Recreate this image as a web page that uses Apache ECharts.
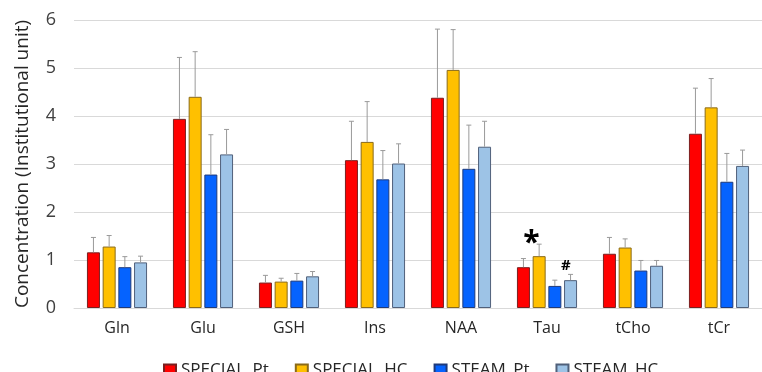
<!DOCTYPE html>
<html>
<head>
<meta charset="utf-8">
<script src="https://cdn.jsdelivr.net/npm/echarts@6/dist/echarts.min.js"></script>
<style>
  html, body { margin: 0; padding: 0; background: #fff; }
  #chart { width: 762px; height: 372px; }
</style>
</head>
<body>
<div id="chart"></div>
<script>
// Metabolite concentrations (mean and mean + SD) per sequence and group
const metabolites = ['Gln', 'Glu', 'GSH', 'Ins', 'NAA', 'Tau', 'tCho', 'tCr'];
const seriesNames = ['SPECIAL_Pt', 'SPECIAL_HC', 'STEAM_Pt', 'STEAM_HC'];

const specialPtMean = [1.16, 3.94, 0.53, 3.08, 4.38, 0.85, 1.13, 3.63];
const specialHcMean = [1.28, 4.40, 0.55, 3.46, 4.96, 1.08, 1.26, 4.18];
const steamPtMean   = [0.85, 2.78, 0.57, 2.68, 2.90, 0.46, 0.78, 2.63];
const steamHcMean   = [0.95, 3.20, 0.66, 3.01, 3.36, 0.58, 0.88, 2.96];

const specialPtUpper = [1.47, 5.22, 0.68, 3.89, 5.81, 1.03, 1.47, 4.58];
const specialHcUpper = [1.51, 5.34, 0.62, 4.30, 5.80, 1.33, 1.44, 4.78];
const steamPtUpper   = [1.07, 3.61, 0.72, 3.28, 3.81, 0.58, 0.99, 3.22];
const steamHcUpper   = [1.08, 3.72, 0.76, 3.42, 3.89, 0.70, 0.99, 3.29];

const yTicks = [0, 1, 2, 3, 4, 5, 6];

const colors = ['#ff0000', '#ffc000', '#0563ff', '#9dc3e6'];
const borders = ['#7a1f1f', '#8a6a1a', '#1f3a7a', '#50607a'];

const means = [specialPtMean, specialHcMean, steamPtMean, steamHcMean];
const uppers = [specialPtUpper, specialHcUpper, steamPtUpper, steamHcUpper];

const BAR_W = 13;
const BAR_STEP = 15.7;
const font = '"Open Sans", "Noto Sans", sans-serif';

const chart = echarts.init(document.getElementById('chart'), null, { renderer: 'canvas' });

const barSeries = seriesNames.map((name, s) => ({
  name: name,
  type: 'bar',
  barWidth: BAR_W,
  barGap: ((BAR_STEP - BAR_W) / BAR_W * 100).toFixed(1) + '%',
  itemStyle: { color: colors[s], borderColor: borders[s], borderWidth: 1 },
  data: means[s].map((v, i) => {
    // significance markers on the Tau group
    if (s === 0 && metabolites[i] === 'Tau') {
      return { value: v, label: { show: true, position: 'top', formatter: '*', fontSize: 30, fontWeight: 'bold', color: '#000', fontFamily: font, offset: [8, -4] } };
    }
    if (s === 2 && metabolites[i] === 'Tau') {
      return { value: v, label: { show: true, position: 'top', formatter: '#', fontSize: 15, fontWeight: 'bold', color: '#000', fontFamily: font, offset: [11, -8] } };
    }
    return v;
  }),
  z: 2
}));

// upper-only error whiskers, one custom series per bar series
const errorSeries = seriesNames.map((name, s) => ({
  name: name,
  type: 'custom',
  z: 3,
  silent: true,
  renderItem: function (params, api) {
    const idx = api.value(0);
    const base = api.coord([idx, api.value(1)]);
    const top = api.coord([idx, api.value(2)]);
    const x = base[0] + (s - 1.5) * BAR_STEP;
    const style = { stroke: '#9a9a9a', lineWidth: 1 };
    return {
      type: 'group',
      children: [
        { type: 'line', shape: { x1: x, y1: base[1], x2: x, y2: top[1] }, style: style },
        { type: 'line', shape: { x1: x - 2.5, y1: top[1], x2: x + 2.5, y2: top[1] }, style: style }
      ]
    };
  },
  encode: { x: 0, y: [1, 2] },
  data: metabolites.map((m, i) => [i, means[s][i], uppers[s][i]])
}));

chart.setOption({
  animation: false,
  backgroundColor: '#ffffff',
  grid: { left: 74, top: 20, width: 691, height: 288, containLabel: false },
  legend: {
    data: seriesNames,
    left: 158,
    top: 357,
    icon: 'rect',
    itemWidth: 12,
    itemHeight: 12,
    itemGap: 26,
    textStyle: { fontSize: 17, color: '#262626', fontFamily: font }
  },
  xAxis: {
    type: 'category',
    data: metabolites,
    axisLine: { lineStyle: { color: '#d9d9d9', width: 1 } },
    axisTick: { show: false },
    axisLabel: { fontSize: 16, color: '#262626', fontFamily: font, margin: 12 }
  },
  yAxis: {
    type: 'value',
    min: yTicks[0],
    max: yTicks[yTicks.length - 1],
    interval: 1,
    name: 'Concentration (Institutional unit)',
    nameLocation: 'middle',
    nameRotate: 90,
    nameGap: 42,
    nameTextStyle: { fontSize: 19, color: '#262626', fontFamily: font },
    axisLine: { show: false },
    axisTick: { show: false },
    splitLine: { lineStyle: { color: '#d9d9d9', width: 1 } },
    axisLabel: { fontSize: 18, color: '#404040', fontFamily: font, margin: 18 }
  },
  series: barSeries.concat(errorSeries)
});
</script>
</body>
</html>
